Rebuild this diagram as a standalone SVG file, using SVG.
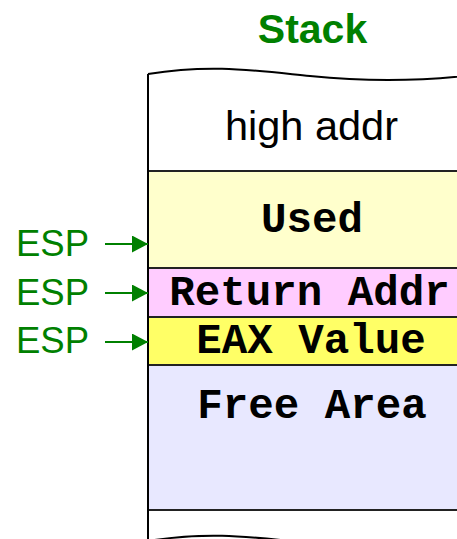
<svg xmlns="http://www.w3.org/2000/svg" width="457" height="539" viewBox="0 0 457 539">
  <style>
    .cell { stroke: #222; stroke-width: 2; }
    .mono { font-family: "Liberation Mono", "Courier New", monospace; font-weight: bold; font-size: 42.5px; fill: #000; text-anchor: middle; }
    .sans { font-family: "Liberation Sans", Arial, sans-serif; font-size: 41.5px; fill: #000; text-anchor: middle; }
    .esp { font-family: "Liberation Sans", Arial, sans-serif; font-size: 36.5px; fill: #008000; }
    .title { font-family: "Liberation Sans", Arial, sans-serif; font-size: 41px; font-weight: bold; fill: #008000; text-anchor: middle; }
    .arrow { stroke: #008000; stroke-width: 2.2; fill: none; }
    .edge { stroke: #000; stroke-width: 2; fill: none; }
  </style>
  <defs>
    <marker id="ah" markerWidth="16" markerHeight="17" refX="16" refY="8.5" orient="auto" markerUnits="userSpaceOnUse">
      <path d="M0,0 L16,8.5 L0,17 Z" fill="#008000"/>
    </marker>
  </defs>
  <rect width="457" height="539" fill="#fff"/>

  <text id="title" class="title" x="312.5" y="43">Stack</text>

  <g id="high-addr">
    <path d="M148,74 C210,64 250,70 310,76 C360,81 420,82 480,74 L480,171 L148,171 Z" fill="#fff" stroke="none"/>
    <path class="edge" d="M148,74 C210,64 250,70 310,76 C360,81 420,82 480,74"/>
    <text class="sans" x="311.5" y="140">high addr</text>
  </g>

  <g id="used">
    <rect class="cell" x="148" y="171" width="332" height="97" fill="#FFFFCC"/>
    <text class="mono" x="312" y="232">Used</text>
  </g>

  <g id="return-addr">
    <rect class="cell" x="148" y="268" width="332" height="49" fill="#FFCCFF"/>
    <text class="mono" x="309.5" y="305">Return Addr</text>
  </g>

  <g id="eax-value">
    <rect class="cell" x="148" y="317" width="332" height="48" fill="#FFFF66"/>
    <text class="mono" x="311" y="353">EAX Value</text>
  </g>

  <g id="free-area">
    <rect class="cell" x="148" y="365" width="332" height="145" fill="#E8E8FF"/>
    <text class="mono" x="312" y="418">Free Area</text>
  </g>

  <g id="stack-bottom">
    <path class="edge" d="M148,74 L148,545"/>
    <path class="edge" d="M148,541 C210,531 250,537 310,543 C360,548 420,549 480,541"/>
  </g>

  <g id="esp-labels">
    <text class="esp" x="16" y="256">ESP</text>
    <text class="esp" x="16" y="305">ESP</text>
    <text class="esp" x="16" y="353">ESP</text>
  </g>

  <g id="connectors">
    <line class="arrow" x1="105" y1="244" x2="148" y2="244" marker-end="url(#ah)"/>
    <line class="arrow" x1="105" y1="293" x2="148" y2="293" marker-end="url(#ah)"/>
    <line class="arrow" x1="105" y1="342" x2="148" y2="342" marker-end="url(#ah)"/>
  </g>
</svg>
